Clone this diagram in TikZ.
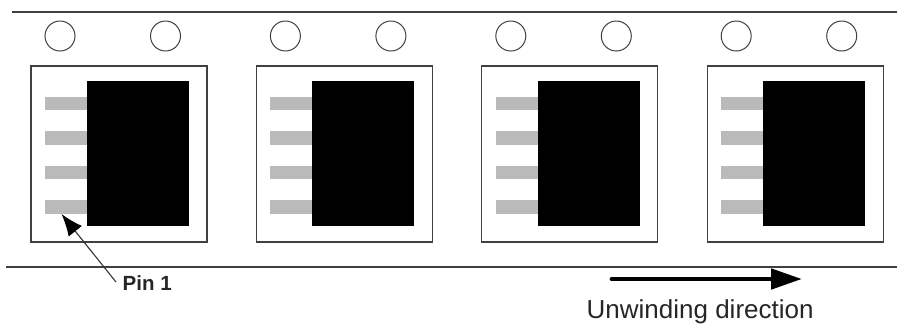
\documentclass[tikz,border=0pt]{standalone}
\usepackage{fontspec}
\setmainfont{Liberation Sans}
\usetikzlibrary{arrows.meta}
\tikzset{
  x=1bp,y=-1bp,
  rail/.style={line width=1.3bp,draw=black!75},
  hole/.style={circle,draw=black!75,line width=1bp,fill=white,minimum size=30bp,inner sep=0pt},
  cell/.style={draw=black!75,line width=1.2bp,fill=white,minimum size=176bp,inner sep=0pt},
  pinbar/.style={fill=black!27,minimum width=43bp,minimum height=13.5bp,inner sep=0pt},
  chip/.style={fill=black,minimum width=102bp,minimum height=145bp,inner sep=0pt},
  lbl/.style={inner sep=0pt,anchor=base west,text=black!85},
}
\begin{document}
\begin{tikzpicture}
\useasboundingbox (0,0) rectangle (897,323);
\coordinate (topl) at (12,12); \coordinate (topr) at (897,12);
\coordinate (botl) at (6,267); \coordinate (botr) at (897,267);
\draw[rail] (topl) -- (topr);
\draw[rail] (botl) -- (botr);
\foreach \n/\ox in {1/0,2/225.4,3/450.8,4/676.2}{
  \node[hole] (ha\n) at (60+\ox,36) {};
  \node[hole] (hb\n) at (165.5+\ox,36) {};
  \node[cell] (c\n) at (119+\ox,154) {};
  \node[pinbar] (p\n a) at (66.5+\ox,103.5) {};
  \node[pinbar] (p\n b) at (66.5+\ox,138) {};
  \node[pinbar] (p\n c) at (66.5+\ox,172.5) {};
  \node[pinbar] (p\n d) at (66.5+\ox,207) {};
  \node[chip] (k\n) at (138+\ox,153.5) {};
}
\coordinate (pinfrom) at (116,282);
\coordinate (pintip) at (61.5,214);
\draw[draw=black!80,line width=1.1bp,-{Latex[length=22bp,width=17bp,black]}] (pinfrom) -- (pintip);
\node[lbl,font=\fontsize{20.5bp}{24bp}\selectfont\bfseries] (pinlabel) at (122.5,290) {Pin 1};
\coordinate (dirfrom) at (612,279);
\coordinate (dirto) at (802,279);
\draw[line width=4.8bp,line cap=round,-{Triangle[length=31bp,width=20bp]}] (dirfrom) -- (dirto);
\node[lbl,font=\fontsize{26bp}{30bp}\selectfont] (dirlabel) at (586.5,318.5) {Unwinding direction};
\end{tikzpicture}
\end{document}
